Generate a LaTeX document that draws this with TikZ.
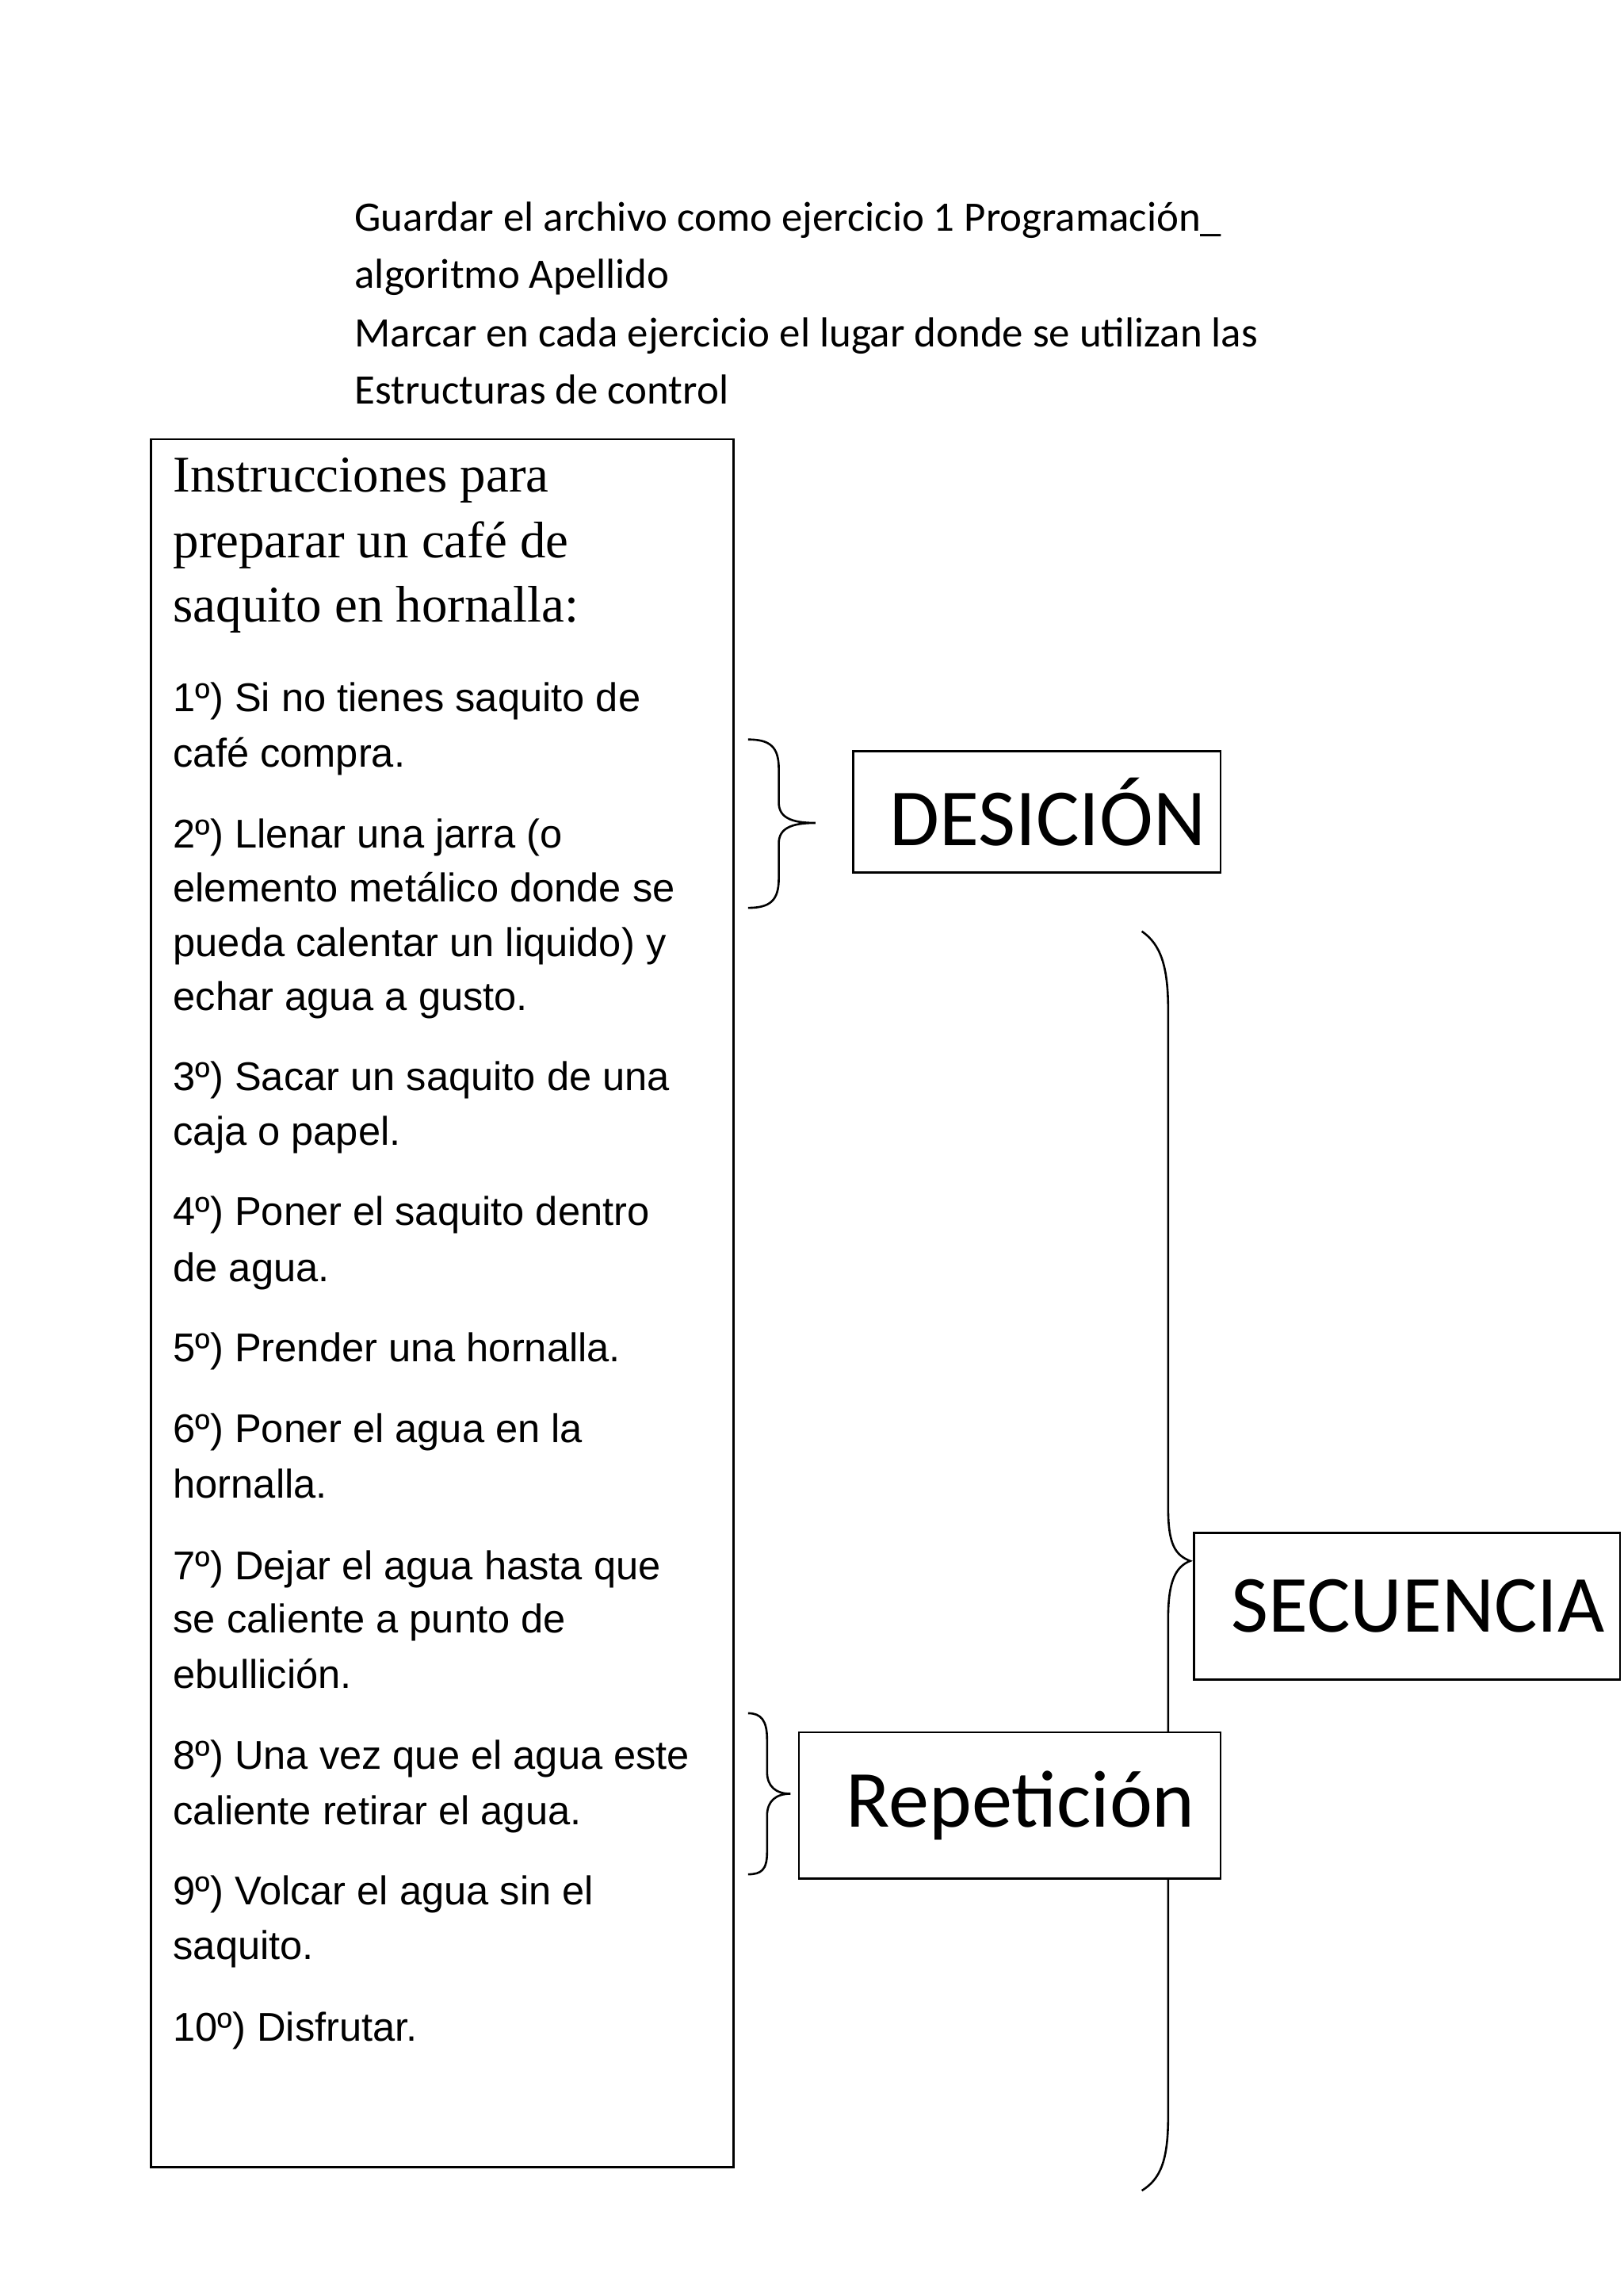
\documentclass[tikz,border=0pt]{standalone}
\usepackage{fontspec}
\setmainfont{Carlito}
\newfontfamily\arialf{Liberation Sans}
\newfontfamily\titlef{Liberation Serif}
\begin{document}
\begin{tikzpicture}[x=0.02cm,y=-0.02cm,
  hdr/.style={anchor=base west,inner sep=0pt,font=\fontsize{16.3}{19}\selectfont},
  itm/.style={anchor=base west,inner sep=0pt,font=\arialf\fontsize{15.6}{18}\selectfont},
  ttl/.style={anchor=base west,inner sep=0pt,font=\titlef\fontsize{20}{24}\selectfont},
  bigbox/.style={draw,fill=white,line width=0.8pt,font=\fontsize{31.5}{36}\selectfont,anchor=west,inner sep=0pt},
  brc/.style={draw,line width=0.8pt}]
\useasboundingbox (0,0) rectangle (1109,1568);
\node[hdr] (h1) at (242,158) {Guardar el archivo como ejercicio 1 Programación\_};
\node[hdr] (h2) at (242,197) {algoritmo Apellido};
\node[hdr] (h3) at (242,237) {Marcar en cada ejercicio el lugar donde se utilizan las};
\node[hdr] (h4) at (242,276) {Estructuras de control};
\draw[line width=0.8pt] (103,300) rectangle (501,1480);
\node[ttl] (t1) at (118,336) {Instrucciones para};
\node[ttl] (t2) at (118,381) {preparar un café de};
\node[ttl] (t3) at (118,425) {saquito en hornalla:};
\foreach \y/\t [count=\i] in {478/{1º) Si no tienes saquito de},516/{café compra.},
 571/{2º) Llenar una jarra (o},608/{elemento metálico donde se},645/{pueda calentar un liquido) y},682/{echar agua a gusto.},
 737/{3º) Sacar un saquito de una},774/{caja o papel.},829/{4º) Poner el saquito dentro},867/{de agua.},
 922/{5º) Prender una hornalla.},977/{6º) Poner el agua en la},1015/{hornalla.},
 1071/{7º) Dejar el agua hasta que},1107/{se caliente a punto de},1145/{ebullición.},
 1200/{8º) Una vez que el agua este},1238/{caliente retirar el agua.},1293/{9º) Volcar el agua sin el},1330/{saquito.},1386/{10º) Disfrutar.}}
 \node[itm] (i\i) at (118,\y+8) {\t};
% braces
\path[brc] (511,505) .. controls (526,505) and (532,510) .. (532,525) -- (532,548) .. controls (532,558) and (540,562) .. (557,562)
  .. controls (540,562) and (532,566) .. (532,576) -- (532,600) .. controls (532,615) and (526,620) .. (511,620);
\path[brc] (511,1170) .. controls (520,1170) and (524,1175) .. (524,1188) -- (524,1210) .. controls (524,1220) and (530,1225) .. (540,1225)
  .. controls (530,1225) and (524,1230) .. (524,1240) -- (524,1265) .. controls (524,1277) and (520,1280) .. (511,1280);
\path[brc] (780,636) .. controls (793,645) and (798,660) .. (798,690) -- (798,1030) .. controls (798,1055) and (803,1062) .. (813,1066)
  .. controls (803,1070) and (798,1080) .. (798,1105) -- (798,1445) .. controls (798,1475) and (793,1488) .. (780,1496);
\node[bigbox,minimum width=251*0.02cm,minimum height=83*0.02cm] (d) at (582,554.5) {\hspace{0.3cm}DESICIÓN\hfill};
\node[bigbox,minimum width=291*0.02cm,minimum height=100*0.02cm] (s) at (815,1097) {\hspace{0.3cm}SECUENCIA};
\node[bigbox,minimum width=288*0.02cm,minimum height=100*0.02cm] (r) at (545,1233) {\hspace{0.3cm}Repetición};
\end{tikzpicture}
\end{document}
